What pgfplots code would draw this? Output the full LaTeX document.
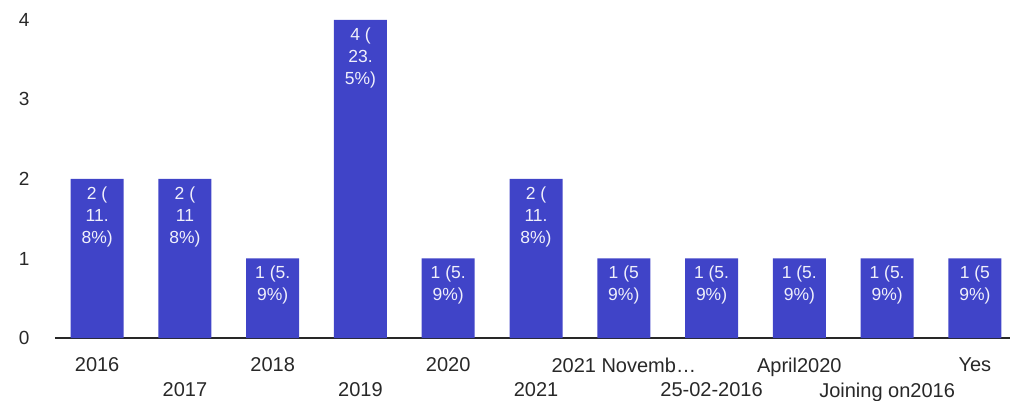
\documentclass[border=0pt]{standalone}
\usepackage{pgfplots}
\pgfplotsset{compat=1.18}
\usepackage{fontspec}
\setmainfont{Liberation Sans}
\definecolor{barblue}{RGB}{64,68,200}
\definecolor{txt}{RGB}{40,40,40}
\begin{document}
\begin{tikzpicture}
\begin{axis}[
  at={(0pt,0pt)}, anchor=south west,
  scale only axis, width=955pt, height=338pt,
  xmin=-0.48, xmax=10.4, ymin=0, ymax=4.25,
  axis x line*=bottom, axis y line*=left,
  x axis line style={draw=txt, line width=1.3pt, -},
  y axis line style={draw=none},
  ytick={0,1,2,3,4},
  xtick={0,2,4,6,8,10},
  xticklabels={2016,2018,2020,{2021 Novemb\ldots},April2020,Yes},
  extra x ticks={1,3,5,7,9},
  extra x tick labels={2017,2019,2021,25-02-2016,Joining on2016},
  extra x tick style={xticklabel style={yshift=-25pt}},
  major tick length=0pt,
  xticklabel style={font=\fontsize{20}{23}\selectfont, text=txt, yshift=-16pt},
  yticklabel style={font=\fontsize{19}{22}\selectfont, text=txt, xshift=-22pt},
  tick style={draw=none},
  /pgf/number format/assume math mode=true,
  bar width=53pt,
  nodes near coords,
  point meta=explicit symbolic,
  every node near coord/.append style={anchor=north, font=\fontsize{17.5}{22}\selectfont, text=white!92!barblue, align=center, yshift=-4pt},
]
\addplot[ybar, fill=barblue, draw=none] coordinates {
  (0,2) [{2 (\\11.\\8\%)}]
  (1,2) [{2 (\\11\\8\%)}]
  (2,1) [{1 (5.\\9\%)}]
  (3,4) [{4 (\\23.\\5\%)}]
  (4,1) [{1 (5.\\9\%)}]
  (5,2) [{2 (\\11.\\8\%)}]
  (6,1) [{1 (5\\9\%)}]
  (7,1) [{1 (5.\\9\%)}]
  (8,1) [{1 (5.\\9\%)}]
  (9,1) [{1 (5.\\9\%)}]
  (10,1) [{1 (5\\9\%)}]
};
\end{axis}
\pgfresetboundingbox
\path (-55pt,-62pt) rectangle (955pt,338pt);
\end{tikzpicture}
\end{document}
